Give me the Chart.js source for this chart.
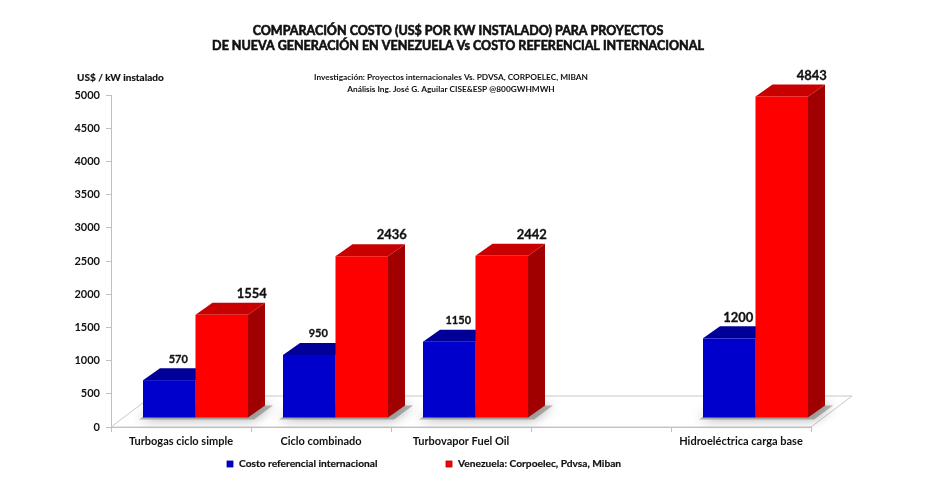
<!DOCTYPE html>
<html lang="es">
<head>
<meta charset="utf-8">
<title>Comparación costo US$ por kW instalado</title>
<script src="https://cdn.jsdelivr.net/npm/chart.js@4.4.1/dist/chart.umd.min.js"></script>
<style>
  html, body { margin: 0; padding: 0; background: #fff; }
</style>
</head>
<body>
<canvas id="kostenChart" width="928" height="486"></canvas>
<script>
// Werte
const kategorien = ['Turbogas ciclo simple', 'Ciclo combinado', 'Turbovapor Fuel Oil', '', 'Hidroeléctrica carga base'];
const costoInternacional = [570, 950, 1150, null, 1200];
const costoVenezuela = [1554, 2436, 2442, null, 4843];
const serienNamen = ['Costo referencial internacional', 'Venezuela: Corpoelec, Pdvsa, Miban'];
const yMin = 0;
const yMax = 5000;
const ySchritt = 500;

// Texte
const titel = ['COMPARACIÓN COSTO (US$ POR KW INSTALADO) PARA PROYECTOS', 'DE NUEVA GENERACIÓN EN VENEZUELA Vs COSTO REFERENCIAL INTERNACIONAL'];
const untertitel = ['Investigación: Proyectos internacionales Vs. PDVSA, CORPOELEC, MIBAN', 'Análisis Ing. José G. Aguilar CISE&ESP @800GWHMWH'];
const achsenTitel = 'US$ / kW instalado';

// Farben der Balken (Vorderseite, Deckel, Seite)
const farben = [
  { front: '#0000cc', top: '#000099', side: '#000080' },
  { front: '#ff0000', top: '#c80000', side: '#a00000' }
];
// Schriftgroessen der Wertebeschriftungen
const labelGroesse = [[11, 11, 11, 11, 13], [13, 13, 13, 13, 13]];

// 3D-Versatz
const boden = { dx: 41, dy: -31 };
const front = { dx: 14.5, dy: -9 };
const tiefe = { dx: 17, dy: -12 };

Chart.defaults.font.family = 'Lato, "Open Sans", sans-serif';
Chart.defaults.color = '#1a1a1a';

// Text zeichnen, optional mit duenner Kontur fuer kraeftigeren Fettdruck
function text(ctx, str, x, y, size, align, kontur) {
  ctx.font = 'bold ' + size + 'px Lato, "Open Sans", sans-serif';
  ctx.textAlign = align || 'center';
  ctx.textBaseline = 'middle';
  ctx.fillStyle = '#111';
  ctx.fillText(str, x, y);
  if (kontur) {
    ctx.strokeStyle = '#111';
    ctx.lineWidth = kontur;
    ctx.strokeText(str, x, y);
  }
}

// Boden, Schatten und 3D-Balken selbst zeichnen
const balken3d = {
  id: 'balken3d',
  beforeDatasetsDraw(chart) {
    const ctx = chart.ctx;
    const a = chart.chartArea;
    ctx.save();

    // Boden
    ctx.beginPath();
    ctx.moveTo(a.left, a.bottom);
    ctx.lineTo(a.right, a.bottom);
    ctx.lineTo(a.right + boden.dx, a.bottom + boden.dy);
    ctx.lineTo(a.left + boden.dx, a.bottom + boden.dy);
    ctx.closePath();
    ctx.fillStyle = '#ffffff';
    ctx.fill();
    ctx.strokeStyle = '#c8c8c8';
    ctx.lineWidth = 1;
    ctx.stroke();

    const metas = chart.data.datasets.map((ds, d) => chart.getDatasetMeta(d));

    // Schatten unter den Balkengruppen
    for (var i = 0; i < kategorien.length; i++) {
      if (costoInternacional[i] === null) continue;
      const b0 = metas[0].data[i].getProps(['x', 'base', 'width'], true);
      const b1 = metas[1].data[i].getProps(['x', 'base', 'width'], true);
      const l = b0.x - b0.width / 2 + front.dx;
      const r = b1.x + b1.width / 2 + front.dx;
      const y = b0.base + front.dy;
      ctx.save();
      ctx.shadowColor = 'rgba(0,0,0,0.6)';
      ctx.shadowBlur = 12;
      ctx.fillStyle = 'rgba(120,120,120,0.55)';
      ctx.beginPath();
      ctx.moveTo(l - 4, y + 2);
      ctx.lineTo(r + 6, y + 2);
      ctx.lineTo(r + tiefe.dx + 8, y + tiefe.dy);
      ctx.lineTo(l + tiefe.dx, y + tiefe.dy);
      ctx.closePath();
      ctx.fill();
      ctx.restore();
    }

    // Balken
    for (var i = 0; i < kategorien.length; i++) {
      metas.forEach((meta, d) => {
        const wert = chart.data.datasets[d].data[i];
        if (wert === null) return;
        const p = meta.data[i].getProps(['x', 'y', 'base', 'width'], true);
        const l = p.x - p.width / 2 + front.dx;
        const r = p.x + p.width / 2 + front.dx;
        const t = p.y + front.dy;
        const u = p.base + front.dy;
        const f = farben[d];

        ctx.fillStyle = f.side;
        ctx.beginPath();
        ctx.moveTo(r, t);
        ctx.lineTo(r + tiefe.dx, t + tiefe.dy);
        ctx.lineTo(r + tiefe.dx, u + tiefe.dy);
        ctx.lineTo(r, u);
        ctx.closePath();
        ctx.fill();

        ctx.fillStyle = f.top;
        ctx.beginPath();
        ctx.moveTo(l, t);
        ctx.lineTo(r, t);
        ctx.lineTo(r + tiefe.dx, t + tiefe.dy);
        ctx.lineTo(l + tiefe.dx, t + tiefe.dy);
        ctx.closePath();
        ctx.fill();

        ctx.fillStyle = f.front;
        ctx.fillRect(l, t, r - l, u - t);
      });
    }

    // Wertebeschriftung
    for (var i = 0; i < kategorien.length; i++) {
      metas.forEach((meta, d) => {
        const wert = chart.data.datasets[d].data[i];
        if (wert === null) return;
        const p = meta.data[i].getProps(['x', 'y'], true);
        const versatz = d === 0 ? 9 : 30;
        text(ctx, String(wert), p.x + front.dx + versatz, p.y + front.dy + tiefe.dy - 9, labelGroesse[d][i], 'center', 0.3);
      });
    }

    ctx.restore();
    return false;
  },
  afterDraw(chart) {
    const ctx = chart.ctx;
    ctx.save();
    // Titel
    text(ctx, titel[0], 458, 31, 12.5, 'center', 0.6);
    text(ctx, titel[1], 458, 46, 12.5, 'center', 0.6);
    // Untertitel
    text(ctx, untertitel[0], 451, 77, 8.3);
    text(ctx, untertitel[1], 451, 89, 8.3);
    // Achsentitel
    text(ctx, achsenTitel, 77, 78, 10, 'left', 0.2);

    // Legende
    const legX = [227, 446];
    chart.data.datasets.forEach((ds, d) => {
      ctx.fillStyle = ds.backgroundColor;
      ctx.fillRect(legX[d], 461, 6, 6);
      ctx.strokeStyle = ds.borderColor;
      ctx.lineWidth = 0.8;
      ctx.strokeRect(legX[d], 461, 6, 6);
      text(ctx, ds.label, legX[d] + 12, 464, 10.2, 'left', 0.2);
    });
    ctx.restore();
  }
};

const ctx = document.getElementById('kostenChart').getContext('2d');
const kostenChart = new Chart(ctx, {
  type: 'bar',
  data: {
    labels: kategorien,
    datasets: [{
      label: serienNamen[0],
      data: costoInternacional,
      backgroundColor: farben[0].front,
      borderColor: farben[0].top
    }, {
      label: serienNamen[1],
      data: costoVenezuela,
      backgroundColor: farben[1].front,
      borderColor: farben[1].side
    }]
  },
  options: {
    responsive: false,
    animation: false,
    categoryPercentage: 0.75,
    barPercentage: 1,
    layout: {
      padding: { top: 95, right: 117, bottom: 37, left: 0 }
    },
    plugins: {
      legend: { display: false },
      title: { display: false },
      tooltip: { enabled: false }
    },
    scales: {
      x: {
        afterFit: function(scale) { scale.height = 22; },
        grid: { display: true, drawOnChartArea: false, tickLength: 5, color: '#bfbfbf', offset: true },
        border: { color: '#bfbfbf' },
        ticks: {
          font: { size: 11, weight: 'bold' },
          color: '#111',
          padding: 3,
          maxRotation: 0,
          autoSkip: false
        }
      },
      y: {
        min: yMin,
        max: yMax,
        afterFit: function(scale) { scale.width = 111; },
        grid: { display: true, drawOnChartArea: false, tickLength: 5, color: '#bfbfbf' },
        border: { color: '#bfbfbf' },
        ticks: {
          stepSize: ySchritt,
          font: { size: 11, weight: 'bold' },
          color: '#111',
          padding: 6,
          callback: function(wert) { return String(wert); }
        }
      }
    }
  },
  plugins: [balken3d]
});
</script>
</body>
</html>
